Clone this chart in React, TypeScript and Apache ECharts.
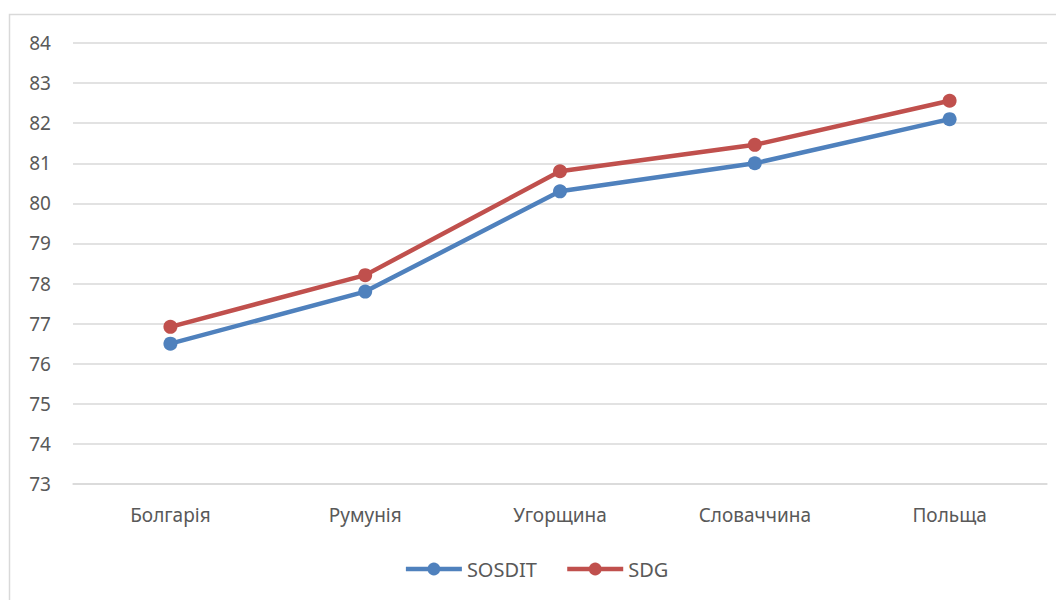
import React, { useEffect, useRef } from "react";
import * as echarts from "echarts";

const categories = ["Болгарія", "Румунія", "Угорщина", "Словаччина", "Польща"];
const sosdit = [76.5, 77.8, 80.3, 81.0, 82.1];
const sdg = [76.92, 78.21, 80.8, 81.46, 82.56];

export default function App() {
  const ref = useRef<HTMLDivElement>(null);
  useEffect(() => {
    if (!ref.current) return;
    const chart = echarts.init(ref.current, null, { renderer: "svg" });
    const font = "Noto Sans";
    chart.setOption({
      animation: false,
      backgroundColor: "#ffffff",
      graphic: [
        {
          type: "rect",
          shape: { x: 1.5, y: 6.5, width: 1200, height: 800 },
          style: { fill: "none", stroke: "#d9d9d9", lineWidth: 1.5 },
          silent: true,
        },
      ],
      grid: { left: 65, right: 17, top: 35, bottom: 116, containLabel: false },
      legend: {
        bottom: 16,
        left: "center",
        itemWidth: 56,
        itemHeight: 16,
        itemGap: 28,
        lineStyle: { width: 4.5 },
        textStyle: { fontFamily: font, fontSize: 20, color: "#595959" },
        data: ["SOSDIT", "SDG"],
      },
      xAxis: {
        type: "category",
        data: categories,
        boundaryGap: true,
        axisLine: { lineStyle: { color: "#d9d9d9", width: 1.5 } },
        axisTick: { show: false },
        axisLabel: { fontFamily: font, fontSize: 19, color: "#595959", margin: 21 },
      },
      yAxis: {
        type: "value",
        min: 73,
        max: 84,
        interval: 1,
        axisLine: { show: false },
        axisTick: { show: false },
        axisLabel: { fontFamily: font, fontSize: 19, color: "#595959", margin: 22 },
        splitLine: { lineStyle: { color: "#d9d9d9", width: 1.5 } },
      },
      series: [
        {
          name: "SOSDIT",
          type: "line",
          data: sosdit,
          symbol: "circle",
          symbolSize: 14,
          lineStyle: { color: "#4F81BD", width: 4.5 },
          itemStyle: { color: "#4F81BD" },
        },
        {
          name: "SDG",
          type: "line",
          data: sdg,
          symbol: "circle",
          symbolSize: 14,
          lineStyle: { color: "#C0504D", width: 4.5 },
          itemStyle: { color: "#C0504D" },
        },
      ],
    });
    return () => chart.dispose();
  }, []);
  return <div ref={ref} style={{ width: 1056, height: 592 }} />;
}
